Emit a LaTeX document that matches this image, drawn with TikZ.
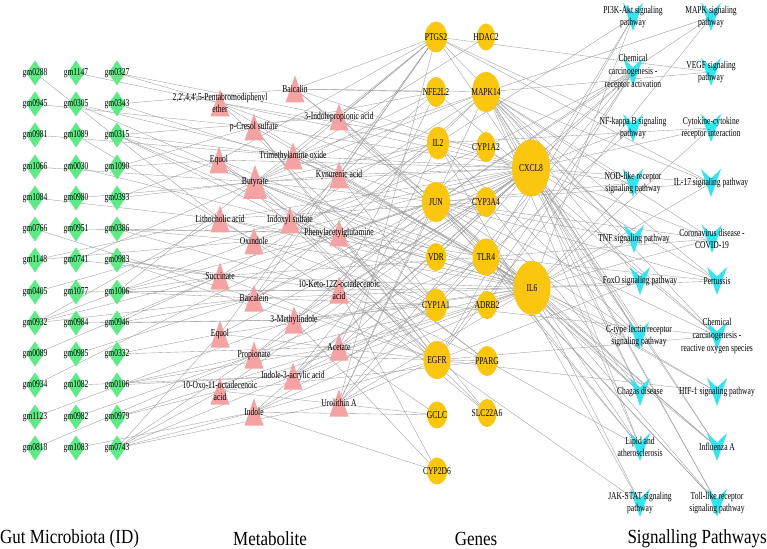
\documentclass[tikz,border=0pt]{standalone}
\usepackage{fontspec}
\setmainfont{Liberation Serif}
\newfontfamily\lblfont[FakeStretch=0.72]{Liberation Serif}
\newfontfamily\capfont[FakeStretch=0.85]{Liberation Serif}
\pgfdeclarelayer{edgelayer}
\pgfdeclarelayer{lbllayer}
\pgfsetlayers{edgelayer,main,lbllayer}
\definecolor{gmgreen}{RGB}{92,236,134}
\definecolor{metpink}{RGB}{244,162,162}
\definecolor{genegold}{RGB}{251,198,14}
\definecolor{pathcyan}{RGB}{48,230,242}
\definecolor{edgegray}{RGB}{155,155,155}
\tikzset{
  lbl/.style={font=\lblfont\fontsize{10.5bp}{12.6bp}\selectfont, inner sep=0pt, align=center, text=black},
  linkline/.style={draw=edgegray, line width=0.35bp},
  captext/.style={font=\capfont\fontsize{20bp}{24bp}\selectfont, inner sep=0pt}
}
% gut microbiota: name x y
\newcommand\gmN[3]{%
  \fill[gmgreen] (#2,#3-12.5) -- (#2+8.5,#3) -- (#2,#3+12.5) -- (#2-8.5,#3) -- cycle;
  \begin{pgfonlayer}{lbllayer}\node[lbl] (#1) at (#2,#3) {#1};\end{pgfonlayer}}
% metabolite: name x y halfw halfh label
\newcommand\metN[6]{%
  \fill[metpink] (#2-#4,#3+#5) -- (#2+#4,#3+#5) -- (#2,#3-#5) -- cycle;
  \begin{pgfonlayer}{lbllayer}\node[lbl] (#1) at (#2,#3) {#6};\end{pgfonlayer}}
% gene: name x y rx ry
\newcommand\geneN[5]{%
  \fill[genegold] (#2,#3) ellipse [x radius=#4, y radius=#5];
  \begin{pgfonlayer}{lbllayer}\node[lbl] (#1) at (#2,#3) {#1};\end{pgfonlayer}}
% pathway: name x y label
\newcommand\pathN[4]{%
  \fill[pathcyan] (#2-10,#3-14) -- (#2,#3-4.5) -- (#2+10,#3-14) -- (#2,#3+14) -- cycle;
  \begin{pgfonlayer}{lbllayer}\node[lbl] (#1) at (#2,#3) {#4};\end{pgfonlayer}}

\begin{document}
\begin{tikzpicture}[x=1bp,y=-1bp]
\useasboundingbox (0,0) rectangle (767,549);

% ---------- gut microbiota ----------
\gmN{gm0288}{35}{73} \gmN{gm1147}{76}{73} \gmN{gm0327}{117}{73}
\gmN{gm0945}{35}{104} \gmN{gm0305}{76}{104} \gmN{gm0343}{117}{104}
\gmN{gm0981}{35}{135} \gmN{gm1089}{76}{135} \gmN{gm0315}{117}{135}
\gmN{gm1066}{35}{167} \gmN{gm0030}{76}{167} \gmN{gm1090}{117}{167}
\gmN{gm1084}{35}{198} \gmN{gm0980}{76}{198} \gmN{gm0393}{117}{198}
\gmN{gm0766}{35}{229} \gmN{gm0951}{76}{229} \gmN{gm0386}{117}{229}
\gmN{gm1148}{35}{260} \gmN{gm0741}{76}{260} \gmN{gm0983}{117}{260}
\gmN{gm0405}{35}{292} \gmN{gm1077}{76}{292} \gmN{gm1006}{117}{292}
\gmN{gm0932}{35}{323} \gmN{gm0984}{76}{323} \gmN{gm0946}{117}{323}
\gmN{gm0089}{35}{354} \gmN{gm0985}{76}{354} \gmN{gm0332}{117}{354}
\gmN{gm0934}{35}{385} \gmN{gm1082}{76}{385} \gmN{gm0106}{117}{385}
\gmN{gm1123}{35}{417} \gmN{gm0982}{76}{417} \gmN{gm0979}{117}{417}
\gmN{gm0818}{35}{448} \gmN{gm1083}{76}{448} \gmN{gm0743}{117}{448}

% ---------- metabolites ----------
\metN{m1}{220}{103}{9.5}{13.5}{2,2',4,4',5-Pentabromodiphenyl\\ether}
\metN{m2}{295}{89}{9.5}{13.5}{Baicalin}
\metN{m3}{339}{117}{9.5}{13.5}{3-Indolepropionic acid}
\metN{m4}{254}{127}{9.5}{13.5}{p-Cresol sulfate}
\metN{m5}{293}{156}{9.5}{13.5}{Trimethylamine oxide}
\metN{m6}{219}{160}{9.5}{13.5}{Equol}
\metN{m7}{255}{182}{12}{17}{Butyrate}
\metN{m8}{339}{175}{9.5}{13.5}{Kynurenic acid}
\metN{m9}{220}{219}{9.5}{13.5}{Lithocholic acid}
\metN{m10}{290}{220}{9.5}{13.5}{Indoxyl sulfate}
\metN{m11}{254}{241}{9.5}{13.5}{Oxindole}
\metN{m12}{339}{233}{9.5}{13.5}{Phenylacetylglutamine}
\metN{m13}{220}{276}{9.5}{13.5}{Succinate}
\metN{m14}{339}{290}{9.5}{13.5}{10-Keto-12Z-octadecenoic\\acid}
\metN{m15}{254}{298}{9.5}{13.5}{Baicalein}
\metN{m16}{294}{320}{9.5}{13.5}{3-Methylindole}
\metN{m17}{220}{334}{9.5}{13.5}{Equol}
\metN{m18}{339}{347}{9.5}{13.5}{Acetate}
\metN{m19}{254}{355}{9.5}{13.5}{Propionate}
\metN{m20}{293}{376}{9.5}{13.5}{Indole-3-acrylic acid}
\metN{m21}{220}{391}{9.5}{13.5}{10-Oxo-11-octadecenoic\\acid}
\metN{m22}{254}{412}{9.5}{13.5}{Indole}
\metN{m23}{339}{403}{9.5}{13.5}{Urolithin A}

% ---------- genes ----------
\geneN{PTGS2}{436}{37}{11}{15.5}
\geneN{HDAC2}{486}{37}{9}{13.5}
\geneN{NFE2L2}{436}{92}{10}{15}
\geneN{MAPK14}{486}{92}{14}{20}
\geneN{IL2}{438}{143}{11}{16.5}
\geneN{CYP1A2}{486}{147}{9.5}{15}
\geneN{CXCL8}{531}{168}{19}{28.5}
\geneN{JUN}{436}{202}{14}{20}
\geneN{CYP3A4}{486}{202}{10.5}{15}
\geneN{VDR}{436}{257}{10}{14}
\geneN{TLR4}{486}{257}{13.5}{18.5}
\geneN{IL6}{532}{288}{18.5}{27}
\geneN{CYP1A1}{436}{305}{11}{16.5}
\geneN{ADRB2}{487}{305}{10}{14}
\geneN{EGFR}{437}{360}{13.5}{19}
\geneN{PPARG}{487}{361}{10.5}{15}
\geneN{GCLC}{437}{415}{10}{13.5}
\geneN{SLC22A6}{487}{413}{9.5}{14}
\geneN{CYP2D6}{437}{471}{10}{13.5}

% ---------- pathways ----------
\pathN{p1}{633}{17}{PI3K-Akt signaling\\pathway}
\pathN{p2}{711}{17}{MAPK signaling\\pathway}
\pathN{p3}{633}{72}{Chemical\\carcinogenesis -\\receptor activation}
\pathN{p4}{711}{72}{VEGF signaling\\pathway}
\pathN{p5}{633}{128}{NF-kappa B signaling\\pathway}
\pathN{p6}{711}{128}{Cytokine-cytokine\\receptor interaction}
\pathN{p7}{633}{183}{NOD-like receptor\\signaling pathway}
\pathN{p8}{711}{183}{IL-17 signaling pathway}
\pathN{p9}{634}{239}{TNF signaling pathway}
\pathN{p10}{712}{239}{Coronavirus disease -\\COVID-19}
\pathN{p11}{640}{281}{FoxO signaling pathway}
\pathN{p12}{717}{281}{Pertussis}
\pathN{p13}{639}{336}{C-type lectin receptor\\signaling pathway}
\pathN{p14}{717}{336}{Chemical\\carcinogenesis -\\reactive oxygen species}
\pathN{p15}{640}{392}{Chagas disease}
\pathN{p16}{717}{392}{HIF-1 signaling pathway}
\pathN{p17}{640}{447}{Lipid and\\atherosclerosis}
\pathN{p18}{717}{447}{Influenza A}
\pathN{p19}{640}{503}{JAK-STAT signaling\\pathway}
\pathN{p20}{717}{503}{Toll-like receptor\\signaling pathway}

% ---------- column captions ----------
\node[captext, anchor=west] (capgm) at (0,539) {Gut Microbiota (ID)};
\node[captext] (capmet) at (270,539) {Metabolite};
\node[captext] (capgene) at (476,539) {Genes};
\node[captext, anchor=east] (cappath) at (767,539) {Signalling Pathways};

% ---------- connectors ----------
\begin{pgfonlayer}{edgelayer}
\foreach \a/\b in {gm0288/m9, gm1147/m1, gm0327/m1, gm0327/m3, gm0945/m4, gm0305/m5, gm0305/m7,
  gm0343/m8, gm0343/m2, gm0981/m5, gm1089/m11, gm0315/m5, gm0315/m7, gm0315/m10, gm0315/m12,
  gm0315/m3, gm1066/m7, gm0030/m10, gm1090/m6, gm1090/m4, gm1084/m9, gm0980/m8, gm0393/m6,
  gm0393/m7, gm0766/m15, gm0951/m12, gm0386/m11, gm0386/m12, gm0386/m14, gm1148/m9, gm1148/m11,
  gm0741/m13, gm0741/m7, gm0983/m14, gm0983/m13, gm0983/m16, gm0405/m10, gm1077/m14, gm1006/m14,
  gm1006/m13, gm1006/m7, gm1006/m15, gm1006/m12, gm0932/m9, gm0932/m11, gm0932/m13, gm0932/m15,
  gm0984/m16, gm0946/m13, gm0946/m16, gm0946/m15, gm0089/m13, gm0985/m15, gm0332/m17, gm0332/m18,
  gm0934/m12, gm1082/m20, gm0106/m19, gm0106/m20, gm0106/m18, gm1123/m16, gm0982/m19, gm0979/m21,
  gm0979/m18, gm0818/m19, gm1083/m22, gm0743/m21, gm0743/m22, gm0743/m19, gm0743/m20, gm0743/m17,
  gm0743/m23}
  \draw[linkline] (\a.center) -- (\b.center);
\foreach \a/\b in {m1/CYP1A1, m1/CYP1A2, m1/CYP3A4, m1/IL6, m1/CXCL8,
  m2/PTGS2, m2/NFE2L2, m2/MAPK14, m2/IL6, m2/CXCL8, m2/JUN,
  m3/IL6, m3/CXCL8, m3/TLR4, m3/PTGS2,
  m4/IL6, m4/CXCL8, m4/EGFR, m4/SLC22A6, m4/NFE2L2,
  m5/IL6, m5/CXCL8, m5/MAPK14, m5/PTGS2, m5/JUN, m5/TLR4,
  m6/PTGS2, m6/IL6, m6/CXCL8, m6/EGFR, m6/PPARG,
  m7/HDAC2, m7/IL6, m7/CXCL8, m7/IL2, m7/JUN, m7/TLR4, m7/PPARG, m7/PTGS2, m7/MAPK14, m7/EGFR, m7/NFE2L2, m7/VDR,
  m8/IL6, m8/CXCL8, m8/IL2, m8/CYP1A1, m8/PTGS2,
  m9/VDR, m9/CYP3A4, m9/IL6, m9/CXCL8, m9/EGFR,
  m10/CYP1A1, m10/SLC22A6, m10/NFE2L2, m10/IL6, m10/CXCL8, m10/MAPK14,
  m11/CYP1A1, m11/CYP1A2, m11/CXCL8, m11/IL6,
  m12/ADRB2, m12/IL6, m12/CXCL8, m12/TLR4, m12/JUN, m12/MAPK14, m12/EGFR,
  m13/IL6, m13/CXCL8, m13/IL2, m13/TLR4, m13/EGFR,
  m14/IL6, m14/CXCL8, m14/PPARG, m14/NFE2L2, m14/CYP2D6, m14/SLC22A6,
  m15/PTGS2, m15/IL6, m15/CXCL8, m15/JUN, m15/EGFR, m15/MAPK14, m15/CYP1A1,
  m16/CYP1A1, m16/CYP1A2, m16/CYP2D6, m16/IL6, m16/CXCL8,
  m17/EGFR, m17/PTGS2, m17/IL6, m17/CXCL8,
  m18/IL6, m18/CXCL8, m18/TLR4, m18/IL2, m18/GCLC,
  m19/IL6, m19/CXCL8, m19/TLR4, m19/PPARG, m19/JUN,
  m20/IL6, m20/CXCL8, m20/CYP1A1, m20/JUN,
  m21/PPARG, m21/IL6, m21/CXCL8, m21/GCLC,
  m22/CYP1A1, m22/IL6, m22/CXCL8, m22/CYP2D6, m22/GCLC, m22/EGFR,
  m23/EGFR, m23/IL6, m23/CXCL8, m23/MAPK14, m23/JUN, m23/TLR4, m23/PTGS2}
  \draw[linkline] (\a.center) -- (\b.center);
\foreach \a/\b in {IL6/p1, IL2/p1, EGFR/p1, TLR4/p1,
  MAPK14/p2, JUN/p2, EGFR/p2,
  CYP1A1/p3, CYP1A2/p3, CYP3A4/p3, EGFR/p3, JUN/p3, VDR/p3, ADRB2/p3,
  PTGS2/p4, MAPK14/p4,
  CXCL8/p5, PTGS2/p5, TLR4/p5,
  CXCL8/p6, IL6/p6, IL2/p6,
  CXCL8/p7, IL6/p7, MAPK14/p7, JUN/p7,
  CXCL8/p8, IL6/p8, PTGS2/p8, MAPK14/p8, JUN/p8,
  PTGS2/p9, IL6/p9, MAPK14/p9, JUN/p9,
  CXCL8/p10, IL6/p10, MAPK14/p10, TLR4/p10, JUN/p10,
  MAPK14/p11, EGFR/p11, IL6/p11,
  CXCL8/p12, IL6/p12, JUN/p12, MAPK14/p12, TLR4/p12,
  CXCL8/p13, IL6/p13, PTGS2/p13, MAPK14/p13, IL2/p13, JUN/p13,
  CYP1A1/p14, CYP1A2/p14, MAPK14/p14, JUN/p14, EGFR/p14, NFE2L2/p14,
  CXCL8/p15, IL6/p15, IL2/p15, MAPK14/p15, JUN/p15, TLR4/p15,
  IL6/p16, EGFR/p16, TLR4/p16,
  CXCL8/p17, IL6/p17, MAPK14/p17, JUN/p17, TLR4/p17, PPARG/p17,
  CXCL8/p18, IL6/p18, MAPK14/p18, JUN/p18, TLR4/p18,
  IL6/p19, IL2/p19, EGFR/p19,
  CXCL8/p20, IL6/p20, MAPK14/p20, JUN/p20, TLR4/p20}
  \draw[linkline] (\a.center) -- (\b.center);
\end{pgfonlayer}
\end{tikzpicture}
\end{document}
